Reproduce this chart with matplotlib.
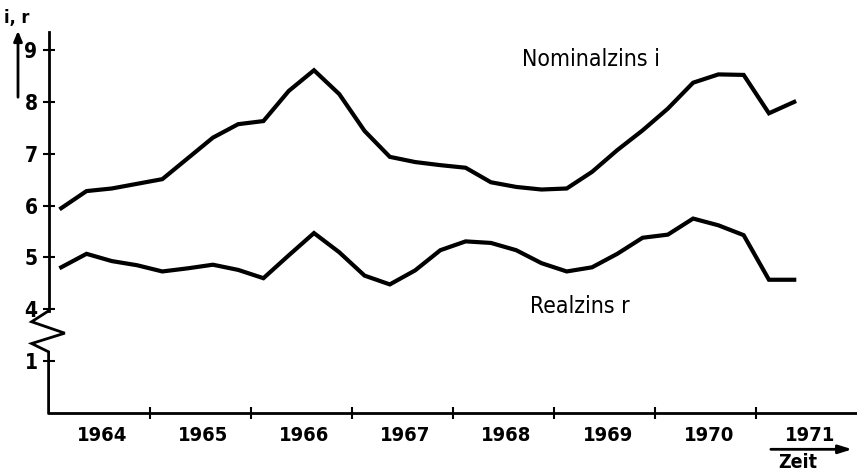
import matplotlib.pyplot as plt

plt.rcParams['font.family'] = ['DejaVu Sans']
plt.rcParams['font.stretch'] = 'condensed'

# quarterly data 1964 Q1 .. 1971 Q2 (x = middle of each quarter)
quarters = [1964 + 0.125 + 0.25 * k for k in range(30)]
nominal = [5.95, 6.28, 6.33, 6.42, 6.51, 6.91, 7.31, 7.57, 7.63, 8.21,
           8.61, 8.15, 7.44, 6.94, 6.84, 6.78, 6.73, 6.45, 6.36, 6.31,
           6.33, 6.65, 7.07, 7.45, 7.87, 8.37, 8.53, 8.52, 7.78, 8.00]
real = [4.81, 5.07, 4.93, 4.85, 4.73, 4.79, 4.86, 4.76, 4.60, 5.04,
        5.47, 5.10, 4.65, 4.48, 4.75, 5.14, 5.31, 5.28, 5.14, 4.89,
        4.73, 4.81, 5.07, 5.38, 5.44, 5.75, 5.62, 5.43, 4.57, 4.57]
years = [1964, 1965, 1966, 1967, 1968, 1969, 1970, 1971]
ytick_labels = ['1', '4', '5', '6', '7', '8', '9']


# the y axis is broken between 1 and 4: values >= 4 stay, 1 is drawn one unit below 4
def brk(v):
    return v if v >= 4 else v + 2


fig = plt.figure(figsize=(8.57, 4.73), dpi=100)
ax = fig.add_axes([0.0567, 0.1268, 0.9433, 0.8058])

ax.plot(quarters, [brk(v) for v in nominal], color='black', lw=3.0, solid_joinstyle='miter')
ax.plot(quarters, [brk(v) for v in real], color='black', lw=3.0, solid_joinstyle='miter')

ax.set_xlim(1964, 1971.996)
ax.set_ylim(2, 9.35)

for s in ['top', 'right', 'left']:
    ax.spines[s].set_visible(False)
ax.spines['bottom'].set_linewidth(2.0)

# left axis drawn by hand with the zigzag break
yt = ax.get_yaxis_transform()
ax.plot([0, 0], [3.97, 9.35], color='black', lw=2.0, transform=yt, clip_on=False)
ax.plot([0, -0.021, 0.020, -0.021, 0, 0], [3.97, 3.76, 3.54, 3.34, 3.18, 2.0],
        color='black', lw=2.0, transform=yt, clip_on=False, solid_joinstyle='miter')

# ticks
yvals = [1, 4, 5, 6, 7, 8, 9]
ax.set_yticks([brk(v) for v in yvals])
ax.set_yticklabels(ytick_labels, fontsize=15, fontweight='bold')
ax.tick_params(axis='y', direction='inout', length=8, width=1.5, pad=4)

ax.set_xticks(years[1:])
ax.set_xticklabels([])
ax.set_xticks([y + 0.53 for y in years], minor=True)
ax.set_xticklabels([str(y) for y in years], minor=True, fontsize=14.5, fontweight='bold')
ax.tick_params(axis='x', which='major', direction='inout', length=9, width=1.5)
ax.tick_params(axis='x', which='minor', length=0, pad=9)

# series labels
ax.text(1969.365, 8.81, 'Nominalzins i', fontsize=16.5, ha='center', va='center')
ax.text(1969.256, 4.05, 'Realzins r', fontsize=16.5, ha='center', va='center')

# axis titles with arrows
fig.text(0.0198, 0.962, 'i, r', fontsize=13, fontweight='bold', ha='center', va='center')
fig.patches.append(plt.matplotlib.patches.FancyArrowPatch(
    (0.021, 0.7886), (0.021, 0.9408), transform=fig.transFigure,
    arrowstyle='-|>,head_length=6,head_width=2.5', color='black', lw=2.0))
ax.annotate('', xy=(0.9975, -0.0952), xytext=(0.890, -0.0952), xycoords='axes fraction',
            arrowprops=dict(arrowstyle='-|>,head_length=0.8,head_width=0.25', color='black', lw=2.0))
ax.text(0.927, -0.131, 'Zeit', transform=ax.transAxes, fontsize=14, fontweight='bold',
        ha='center', va='center')

plt.savefig('out.png', dpi=100)
